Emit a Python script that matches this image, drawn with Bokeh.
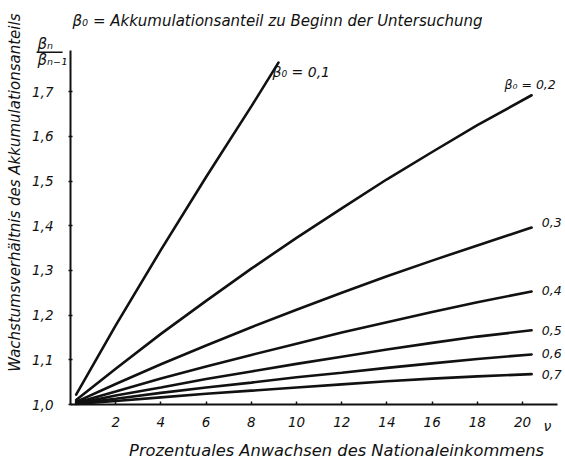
from bokeh.plotting import figure
from bokeh.models import Range1d, FixedTicker, CustomJSTickFormatter, Label, Arrow
from bokeh.embed import file_html
from bokeh.resources import INLINE
import math

# ---- data ----
beta0_labels = ["0,1", "0,2", "0,3", "0,4", "0,5", "0,6", "0,7"]
nu_01 = [0.25, 2, 4, 6, 8, 9.2]
ratio_01 = [1.022, 1.177, 1.346, 1.509, 1.667, 1.765]
nu = [0.25, 2, 4, 6, 8, 10, 12, 14, 16, 18, 20.4]
ratio_02 = [1.010, 1.080, 1.158, 1.232, 1.304, 1.373, 1.439, 1.504, 1.565, 1.625, 1.692]
ratio_03 = [1.006, 1.046, 1.090, 1.132, 1.173, 1.212, 1.250, 1.287, 1.322, 1.356, 1.396]
ratio_04 = [1.004, 1.029, 1.058, 1.085, 1.111, 1.136, 1.161, 1.184, 1.207, 1.229, 1.253]
ratio_05 = [1.002, 1.020, 1.038, 1.057, 1.074, 1.091, 1.107, 1.123, 1.138, 1.152, 1.166]
ratio_06 = [1.002, 1.013, 1.026, 1.038, 1.049, 1.061, 1.071, 1.082, 1.092, 1.102, 1.112]
ratio_07 = [1.001, 1.008, 1.016, 1.024, 1.031, 1.038, 1.045, 1.052, 1.058, 1.063, 1.068]
x_ticks = [2, 4, 6, 8, 10, 12, 14, 16, 18, 20]
y_ticks = [1.0, 1.1, 1.2, 1.3, 1.4, 1.5, 1.6, 1.7]

FONT = "DejaVu Sans"
INK = "#111111"

p = figure(width=565, height=461, output_backend="svg", toolbar_location=None,
           x_range=Range1d(-3.097, 21.90), y_range=Range1d(0.8725, 1.904),
           min_border=0, min_border_left=0, min_border_right=0,
           min_border_top=0, min_border_bottom=0)
p.outline_line_color = None
p.xgrid.visible = False
p.ygrid.visible = False
p.background_fill_color = "white"
p.border_fill_color = "white"

for ax in (p.xaxis[0], p.yaxis[0]):
    ax.axis_line_width = 2
    ax.axis_line_color = INK
    ax.major_tick_line_color = INK
    ax.major_tick_line_width = 1.5
    ax.minor_tick_line_color = None
    ax.major_label_text_font = FONT
    ax.major_label_text_font_style = "italic"
    ax.major_label_text_font_size = "13.5px"
    ax.major_label_text_color = INK

p.xaxis.fixed_location = 1.0
p.xaxis.bounds = (0, 21.55)
p.xaxis.ticker = FixedTicker(ticks=x_ticks)
p.xaxis.major_tick_in = 3
p.xaxis.major_tick_out = 0
p.xaxis.major_label_standoff = 12

p.yaxis.fixed_location = 0
p.yaxis.bounds = (1.0, 1.792)
p.yaxis.ticker = FixedTicker(ticks=y_ticks)
p.yaxis.formatter = CustomJSTickFormatter(code="return tick.toFixed(1).replace('.', ',');")
p.yaxis.major_tick_in = 2
p.yaxis.major_tick_out = 2
p.yaxis.major_label_standoff = 15

lw = 2.6
p.line(nu_01, ratio_01, line_width=lw, color=INK, line_cap="round")
for r in (ratio_02, ratio_03, ratio_04, ratio_05, ratio_06, ratio_07):
    p.line(nu, r, line_width=lw, color=INK, line_cap="round")

def lab(x, y, text, size="14px", align="left", angle=0.0):
    p.add_layout(Label(x=x, y=y, text=text, text_font=FONT, text_font_style="italic",
                       text_font_size=size, text_color=INK, text_align=align,
                       text_baseline="middle", angle=angle))

# titles
lab(0.09, 1.859, "β₀ = Akkumulationsanteil zu Beginn der Untersuchung", size="15px")
lab(11.77, 0.897, "Prozentuales Anwachsen des Nationaleinkommens", size="16.3px", align="center")
lab(-2.45, 1.474, "Wachstumsverhältnis des Akkumulationsanteils", size="15px",
    align="center", angle=math.pi / 2)
lab(21.1, 0.953, "ν", size="14px", align="center")

# fraction label at the top of the y axis
lab(-1.46, 1.806, "βₙ", size="15px")
lab(-1.46, 1.771, "βₙ₋₁", size="15px")
p.add_layout(Arrow(end=None, x_start=-1.5, y_start=1.788, x_end=-0.35, y_end=1.788,
                   line_width=1.5, line_color=INK))

# curve labels
lab(8.94, 1.743, "β₀ = " + beta0_labels[0], size="14px")
lab(19.2, 1.716, "β₀ = " + beta0_labels[1], size="12.5px")
label_y = [1.407, 1.255, 1.166, 1.114, 1.067]
for t, y in zip(beta0_labels[2:], label_y):
    lab(20.85, y, t, size="12.5px")

open("out.html", "w").write(file_html(p, INLINE))
